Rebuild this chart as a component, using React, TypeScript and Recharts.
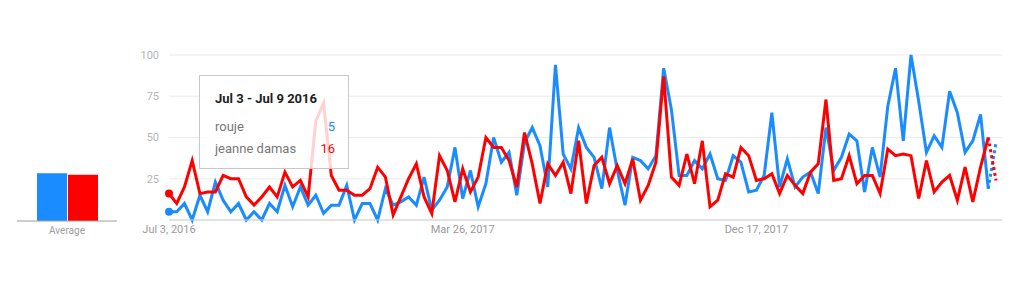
import { LineChart, Line, BarChart, Bar, XAxis, YAxis, CartesianGrid } from 'recharts';

// weekly interest, Jul 3 2016 onwards (last week is partial)
const rouje = [
  5, 5, 10, 0, 15, 5, 23, 12, 5, 10,
  0, 5, 0, 10, 5, 21, 8, 20, 9, 15,
  4, 9, 9, 21, 0, 10, 10, 0, 19, 9,
  11, 14, 9, 26, 6, 12, 20, 44, 13, 30,
  8, 22, 50, 35, 41, 15, 47, 56, 45, 20,
  94, 40, 31, 56, 44, 38, 19, 56, 30, 9,
  38, 36, 31, 39, 92, 67, 27, 27, 36, 31,
  40, 25, 24, 39, 35, 17, 18, 27, 65, 20,
  37, 20, 26, 29, 16, 56, 30, 38, 52, 48,
  17, 44, 26, 69, 92, 48, 100, 72, 41, 51,
  44, 78, 65, 41, 48, 64, 19, 47,
];
const jeanneDamas = [
  16, 10, 20, 36, 16, 17, 17, 27, 25, 25,
  14, 9, 14, 20, 14, 29, 20, 24, 14, 60,
  71, 27, 18, 18, 15, 15, 19, 32, 26, 3,
  14, 25, 34, 14, 4, 39, 30, 11, 31, 17,
  26, 50, 44, 44, 36, 20, 53, 34, 10, 34,
  27, 35, 16, 48, 10, 33, 38, 22, 33, 22,
  37, 12, 21, 35, 87, 26, 21, 40, 22, 48,
  8, 12, 28, 26, 44, 39, 24, 25, 28, 16,
  27, 21, 16, 29, 34, 73, 24, 25, 39, 22,
  27, 27, 16, 43, 39, 40, 39, 13, 36, 17,
  23, 27, 12, 32, 11, 32, 50, 24,
];

const xTickIndex = [0, 38, 76];
const xTickLabels = ['Jul 3, 2016', 'Mar 26, 2017', 'Dec 17, 2017'];
const yTicks = [0, 25, 50, 75, 100];

const averages = [{ name: 'Average', rouje: 29, jeanne: 28 }];

const BLUE = '#1a8cff';
const RED = '#ff0000';

const last = rouje.length - 1;
const data = rouje.map((r, i) => ({
  week: i,
  rouje: i < last ? r : null,
  rougePartial: i >= last - 1 ? r : null,
  jeanne: i < last ? jeanneDamas[i] : null,
  jeannePartial: i >= last - 1 ? jeanneDamas[i] : null,
}));

const firstDot = (color: string) => (props: any) => {
  if (props.index !== 0) return <g key={`d${props.index}`} />;
  return <circle key="d0" cx={props.cx} cy={props.cy} r={4} fill={color} />;
};

export default function App() {
  const font = 'Roboto, "Noto Sans", sans-serif';
  return (
    <div style={{ position: 'absolute', left: 0, top: 0, width: 1028, height: 281, background: '#fff', fontFamily: font }}>
      <div style={{ position: 'absolute', left: 0, top: 0 }}>
        <BarChart
          width={140}
          height={281}
          data={averages}
          margin={{ top: 56, right: 23, left: 17, bottom: 30 }}
          barGap={1}
          barCategoryGap={20}
        >
          <XAxis
            dataKey="name"
            axisLine={{ stroke: '#9e9e9e' }}
            tickLine={false}
            tickSize={0}
            tickMargin={6}
            tick={{ fontSize: 10, fill: '#9e9e9e', fontFamily: font }}
            height={30}
          />
          <YAxis hide domain={[0, 100]} />
          <Bar dataKey="rouje" fill={BLUE} isAnimationActive={false} />
          <Bar dataKey="jeanne" fill={RED} isAnimationActive={false} />
        </BarChart>
      </div>

      <div style={{ position: 'absolute', left: 0, top: 0 }}>
        <LineChart
          width={1028}
          height={281}
          data={data}
          margin={{ top: 55, right: 26, left: 119, bottom: 31 }}
        >
          <CartesianGrid vertical={false} stroke="#ebebeb" />
          <XAxis
            dataKey="week"
            type="category"
            ticks={xTickIndex}
            interval={0}
            tickFormatter={(v: number) => xTickLabels[xTickIndex.indexOf(v)] ?? ''}
            axisLine={{ stroke: '#cfcfcf' }}
            tickLine={false}
            tickSize={0}
            tickMargin={5}
            tick={{ fontSize: 11, fill: '#9a9a9a', fontFamily: font }}
            padding={{ left: 0, right: 6 }}
            height={30}
          />
          <YAxis
            domain={[0, 100]}
            ticks={yTicks}
            tickFormatter={(v: number) => (v === 0 ? '' : String(v))}
            axisLine={false}
            tickLine={false}
            tickSize={0}
            tickMargin={10}
            width={50}
            tick={{ fontSize: 11, fill: '#b5b5b5', fontFamily: font }}
          />
          <Line type="linear" dataKey="rouje" stroke={BLUE} strokeWidth={3} dot={firstDot(BLUE)} activeDot={false} isAnimationActive={false} />
          <Line type="linear" dataKey="rougePartial" stroke={BLUE} strokeWidth={3} strokeDasharray="3 3" dot={false} activeDot={false} isAnimationActive={false} />
          <Line type="linear" dataKey="jeanne" stroke={RED} strokeWidth={3} dot={firstDot(RED)} activeDot={false} isAnimationActive={false} />
          <Line type="linear" dataKey="jeannePartial" stroke={RED} strokeWidth={3} strokeDasharray="3 3" dot={false} activeDot={false} isAnimationActive={false} />
        </LineChart>
      </div>

      {/* hover card for the first week */}
      <div
        style={{
          position: 'absolute',
          left: 199,
          top: 75,
          width: 150,
          height: 94,
          border: '1px solid #c8c8c8',
          background: 'rgba(255,255,255,0.82)',
          fontSize: 13,
          boxSizing: 'border-box',
        }}
      >
        <div style={{ position: 'absolute', left: 15, top: 15, fontWeight: 'bold', color: '#222' }}>Jul 3 - Jul 9 2016</div>
        <div style={{ position: 'absolute', left: 15, top: 43, color: '#777' }}>rouje</div>
        <div style={{ position: 'absolute', right: 13, top: 43, color: BLUE }}>{rouje[0]}</div>
        <div style={{ position: 'absolute', left: 15, top: 65, color: '#777' }}>jeanne damas</div>
        <div style={{ position: 'absolute', right: 13, top: 65, color: RED }}>{jeanneDamas[0]}</div>
      </div>
    </div>
  );
}
